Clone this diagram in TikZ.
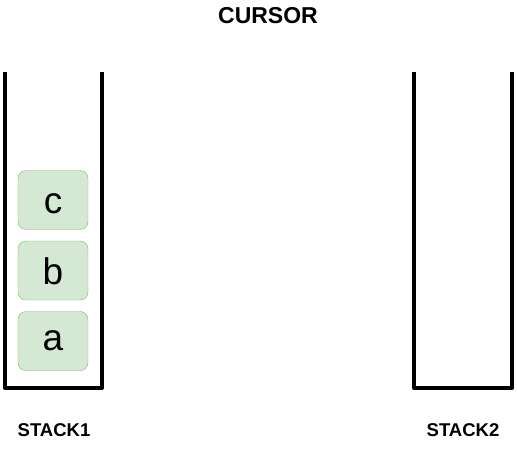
\documentclass[tikz,border=0pt]{standalone}
\usepackage{fontspec}
\setmainfont{Liberation Sans}
\begin{document}
\begin{tikzpicture}[x=1pt,y=-1pt,
  stackline/.style={line width=4pt,line join=round},
  item/.style={draw=itemstroke,fill=itemfill,rounded corners=8pt,minimum width=70pt,minimum height=59pt,inner sep=0pt,text depth=0pt,font=\fontsize{37}{40}\selectfont},
  lbl/.style={font=\bfseries\fontsize{23}{26}\selectfont},
  slbl/.style={font=\bfseries\fontsize{18.5}{21}\selectfont}]
\definecolor{itemfill}{HTML}{D5E8D4}
\definecolor{itemstroke}{HTML}{82B366}
\useasboundingbox (0,0) rectangle (517,451);
\coordinate (s1tl) at (5,72);
\coordinate (s1tr) at (102,72);
\draw[stackline] (s1tl) -- (5,388) -- (102,388) -- (s1tr);
\coordinate (s2tl) at (414,72);
\coordinate (s2tr) at (512,72);
\draw[stackline] (s2tl) -- (414,388) -- (512,388) -- (s2tr);
\node[item,text height=26pt] (c) at (53,200) {c};
\node[item,text height=27pt] (b) at (53,270.5) {b};
\node[item,text height=19pt] (a) at (53,341) {a};
\node[lbl] (cursor) at (268,16) {CURSOR};
\node[slbl] (st1) at (54,430) {STACK1};
\node[slbl] (st2) at (463,430) {STACK2};
\end{tikzpicture}
\end{document}
